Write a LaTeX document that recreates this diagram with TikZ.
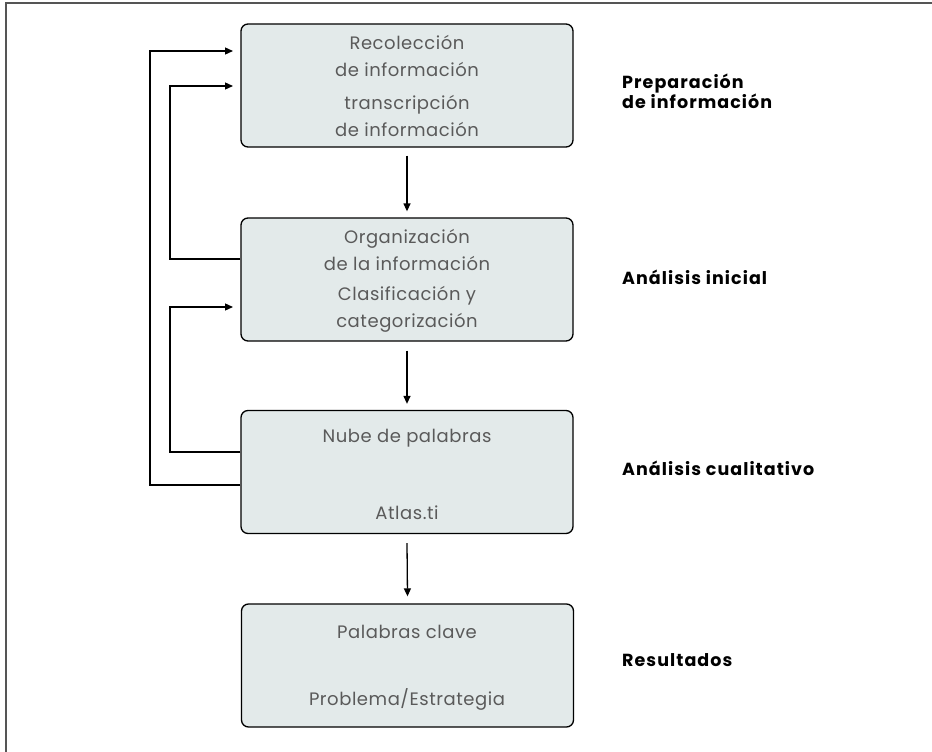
\documentclass[tikz,border=0pt]{standalone}
\usepackage{fontspec}
\setmainfont{Poppins}
\usetikzlibrary{arrows.meta}
\definecolor{boxfill}{HTML}{E3EAEA}
\definecolor{txtgrey}{HTML}{5A5A5A}
\definecolor{framegrey}{HTML}{555555}
\tikzset{
  stepbox/.style={draw=black, line width=1.3pt, rounded corners=7pt, fill=boxfill, minimum width=332pt, minimum height=123pt, inner sep=0pt},
  boxtxt/.style={text=txtgrey, font=\fontsize{18}{27}\addfontfeature{LetterSpace=3}\selectfont, align=center, inner sep=0pt},
  lbl/.style={font=\bfseries\fontsize{17.5}{20}\addfontfeature{LetterSpace=6}\selectfont, align=left, anchor=west, inner sep=0pt},
  flow/.style={line width=1.3pt, -{Triangle[length=8pt,width=7pt]}},
}
\begin{document}
\begin{tikzpicture}[x=1pt,y=-1pt]
\useasboundingbox (0,0) rectangle (932,752);
\draw[framegrey, line width=2pt] (6,752) -- (6,3) -- (932,3);
% boxes
\node[stepbox] (b1) at (407,85.5) {};
\node[stepbox] (b2) at (407,279.5) {};
\node[stepbox] (b3) at (407,472) {};
\node[stepbox] (b4) at (407.5,665.5) {};
% box texts
\node[boxtxt] (t1a) at (407,56) {Recolección\\de información};
\node[boxtxt] (t1b) at (407,116) {transcripción\\de información};
\node[boxtxt] (t2a) at (407,250) {Organización\\de la información};
\node[boxtxt] (t2b) at (407,309) {Clasificación y\\categorización};
\node[boxtxt] (t3a) at (407,438) {Nube de palabras};
\node[boxtxt] (t3b) at (407,513) {Atlas.ti};
\node[boxtxt] (t4a) at (407,632) {Palabras clave};
\node[boxtxt] (t4b) at (407,699) {Problema/Estrategia};
% side labels
\node[lbl] (l1) at (622,91) {Preparación\\de información};
\node[lbl] (l2) at (622,277) {Análisis inicial};
\node[lbl] (l3) at (622,468) {Análisis cualitativo};
\node[lbl] (l4) at (622,660) {Resultados};
% coordinates for feedback loops
\coordinate (c1s) at (b3.west |- 0,485);
\coordinate (c1e) at (233,51);
\coordinate (c2s) at (b2.west |- 0,259);
\coordinate (c2e) at (233,86);
\coordinate (c3s) at (b3.west |- 0,452);
\coordinate (c3e) at (233,307);
\draw[flow] (c1s) -- (150,485) -- (150,51) -- (c1e);
\draw[flow] (c2s) -- (170,259) -- (170,86) -- (c2e);
\draw[flow] (c3s) -- (170,452) -- (170,307) -- (c3e);
% main flow
\draw[flow] ([yshift=-8]b1.south) -- ([yshift=6]b2.north);
\draw[flow] ([yshift=-9]b2.south) -- ([yshift=6]b3.north);
\draw[flow] ([yshift=-9]b3.south) -- ([yshift=7]b4.north);
\end{tikzpicture}
\end{document}
